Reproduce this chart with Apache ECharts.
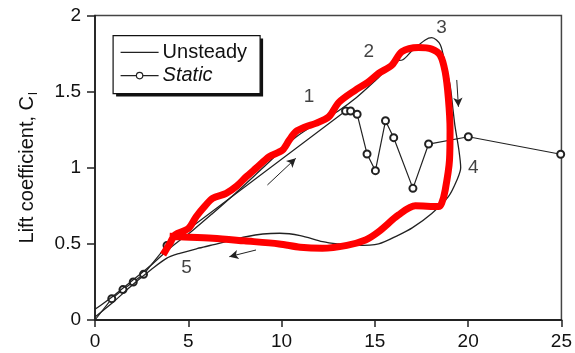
<!DOCTYPE html>
<html>
<head>
<meta charset="utf-8">
<script src="https://cdn.jsdelivr.net/npm/echarts@6/dist/echarts.min.js"></script>
<style>html,body{margin:0;padding:0;background:#fff}#c{width:575px;height:353px}</style>
</head>
<body>
<div id="c"></div>
<script>
// ---- data (angle of attack in degrees, lift coefficient) ----
const unsteadyX = [0, 1, 2, 3, 4, 5.25, 6.3, 7.5, 9, 10.76, 12, 13, 14, 15, 16.1, 16.5, 17, 17.7, 18.05, 18.5, 18.77, 19.03, 19.2, 19.3, 19.5, 19.6, 19.4, 18.94, 18.05, 17, 16.27, 15.2, 14, 13, 12.2, 11, 9.9, 9, 8.1, 7, 6.3, 5.5, 4.54, 3.83, 3, 2, 1, 0];
const unsteadyY = [0.07, 0.16, 0.26, 0.36, 0.47, 0.59, 0.70, 0.83, 1.0, 1.2, 1.3, 1.37, 1.46, 1.57, 1.70, 1.71, 1.77, 1.84, 1.855, 1.81, 1.675, 1.544, 1.37, 1.27, 1.12, 1.0, 0.92, 0.81, 0.70, 0.605, 0.558, 0.5, 0.49, 0.5, 0.515, 0.555, 0.57, 0.565, 0.547, 0.515, 0.493, 0.47, 0.438, 0.405, 0.33, 0.23, 0.12, 0.02];

const staticX = [0, 0.9, 1.5, 2.05, 2.6, 3.86, 13.43, 13.7, 14.05, 14.58, 15.03, 15.57, 16.01, 17.04, 17.88, 20.01, 24.96];
const staticY = [0.0, 0.14, 0.2, 0.25, 0.3, 0.49, 1.373, 1.373, 1.352, 1.091, 0.981, 1.309, 1.198, 0.865, 1.156, 1.204, 1.089];

const redX = [3.65, 4.0, 4.3, 5.0, 5.43, 5.9, 6.31, 7.03, 7.6, 8.1, 8.63, 9.34, 10.05, 10.4, 10.76, 11.3, 11.83, 12.54, 13.07, 13.96, 14.6, 15.2, 15.92, 16.45, 17.34, 18.05, 18.5, 18.77, 18.94, 19.03, 19.0, 18.77, 18.58, 18.41, 17.17, 16.27, 15.2, 14.5, 13.5, 12.18, 11, 9.87, 8, 6.31, 4.54, 4.0];
const redY = [0.43, 0.5, 0.56, 0.6, 0.68, 0.75, 0.80, 0.832, 0.88, 0.94, 0.997, 1.073, 1.117, 1.18, 1.237, 1.27, 1.292, 1.336, 1.43, 1.511, 1.56, 1.62, 1.675, 1.763, 1.79, 1.78, 1.74, 1.63, 1.457, 1.25, 1.05, 0.854, 0.767, 0.745, 0.75, 0.69, 0.58, 0.526, 0.49, 0.471, 0.478, 0.5, 0.52, 0.537, 0.547, 0.55];

const legendNames = ['Unsteady', 'Static'];

const noteTexts = ['1', '2', '3', '4', '5'];
const noteX = [11.47, 14.67, 18.57, 20.28, 4.9];
const noteY = [1.465, 1.76, 1.92, 1.0, 0.34];

// arrows: start -> end (head at end)
const arrowX1 = [9.24, 19.39, 8.63];
const arrowY1 = [0.887, 1.577, 0.46];
const arrowX2 = [10.76, 19.48, 7.2];
const arrowY2 = [1.062, 1.401, 0.416];

const xMin = 0, xMax = 25, xStep = 5;
const yMin = 0, yMax = 2, yStep = 0.5;

// ---- chart ----
const FONT = '"Liberation Sans", Arial, Helvetica, sans-serif';
const zip = (a, b) => a.map((v, i) => [v, b[i]]);
const chart = echarts.init(document.getElementById('c'), null, {renderer: 'canvas'});
const arrowData = arrowX1.map((x, i) => [
  {coord: [x, arrowY1[i]], symbol: 'none'},
  {coord: [arrowX2[i], arrowY2[i]], symbol: 'arrow'}
]);
// legend drawn as a graphic group (box with offset shadow, samples, text)
const legendGroup = {
  type: 'group', left: 112.5, top: 35, zlevel: 2, z: 50, silent: true,
  children: [
    {type: 'rect', z: 50, shape: {x: 3, y: 3, width: 147, height: 58}, style: {fill: '#111'}},
    {type: 'rect', z: 51, shape: {x: 0, y: 0, width: 147, height: 58}, style: {fill: '#fff', stroke: '#111', lineWidth: 1.2}},
    {type: 'line', z: 52, shape: {x1: 7.5, y1: 16.7, x2: 45.5, y2: 16.7}, style: {stroke: '#222', lineWidth: 1.3, fill: null}},
    {type: 'line', z: 52, shape: {x1: 7.5, y1: 40, x2: 45.5, y2: 40}, style: {stroke: '#222', lineWidth: 1.2, fill: null}},
    {type: 'circle', z: 53, shape: {cx: 26.5, cy: 40, r: 3.2}, style: {fill: '#fff', stroke: '#222', lineWidth: 1.2}},
    {type: 'text', z: 54, x: 49.5, y: 16.7, style: {text: legendNames[0], font: '20px ' + FONT, fill: '#111', verticalAlign: 'middle', align: 'left'}},
    {type: 'text', z: 54, x: 49.5, y: 40, style: {text: legendNames[1], font: 'italic 20px ' + FONT, fill: '#111', verticalAlign: 'middle', align: 'left'}}
  ]
};
chart.setOption({
  animation: false,
  backgroundColor: '#fff',
  grid: {left: 95, right: 11.5, top: 15.6, bottom: 33, show: true, borderColor: '#444', borderWidth: 1.5},
  graphic: [legendGroup],
  xAxis: {
    type: 'value', min: xMin, max: xMax, interval: xStep,
    axisLine: {show: true, lineStyle: {color: '#222', width: 1.8}},
    axisTick: {show: true, inside: false, length: 7, lineStyle: {color: '#222', width: 1.5}},
    axisLabel: {fontFamily: FONT, fontSize: 19, color: '#111', margin: 12},
    splitLine: {show: false}
  },
  yAxis: {
    type: 'value', min: yMin, max: yMax, interval: yStep,
    name: '{a|Lift coefficient, C}{s|l}', nameLocation: 'middle', nameGap: 55, nameRotate: 90,
    nameTextStyle: {fontFamily: FONT, fontSize: 20, color: '#111',
      rich: {a: {fontFamily: FONT, fontSize: 20, color: '#111'}, s: {fontFamily: FONT, fontSize: 13, color: '#111', padding: [12, 0, 0, 1]}}},
    axisLine: {show: true, lineStyle: {color: '#222', width: 1.8}},
    axisTick: {show: true, inside: false, length: 8, lineStyle: {color: '#222', width: 1.5}},
    axisLabel: {fontFamily: FONT, fontSize: 19, color: '#111', margin: 14},
    splitLine: {show: false}
  },
  series: [
    {
      name: legendNames[1], type: 'line', data: zip(staticX, staticY), z: 2,
      symbol: 'emptyCircle', symbolSize: (v, p) => (p && p.dataIndex === 0 ? 0 : 7), showSymbol: true,
      lineStyle: {color: '#222', width: 1.2}, itemStyle: {color: '#222', borderWidth: 1.2, borderColor: '#222'}
    },
    {
      name: legendNames[0], type: 'line', data: zip(unsteadyX, unsteadyY), z: 3,
      symbol: 'none', smooth: 0.3,
      lineStyle: {color: '#222', width: 1.3}, itemStyle: {color: '#222'},
      markLine: {silent: true, symbolSize: [7, 9], data: arrowData,
        lineStyle: {color: '#222', width: 1, type: 'solid'}, label: {show: false}}
    },
    {
      name: 'Loop', type: 'line', data: zip(redX, redY), zlevel: 1, z: 5,
      symbol: 'none', smooth: 0.3,
      lineStyle: {color: '#ff0000', width: 7}
    },
    {
      name: 'notes', type: 'scatter', zlevel: 1, z: 6, symbolSize: 0,
      data: noteX.map((x, i) => [x, noteY[i], noteTexts[i]]),
      label: {show: true, position: 'inside', formatter: p => p.data[2], fontFamily: FONT, fontSize: 19, color: '#111'}
    }
  ]
});
</script>
</body>
</html>
